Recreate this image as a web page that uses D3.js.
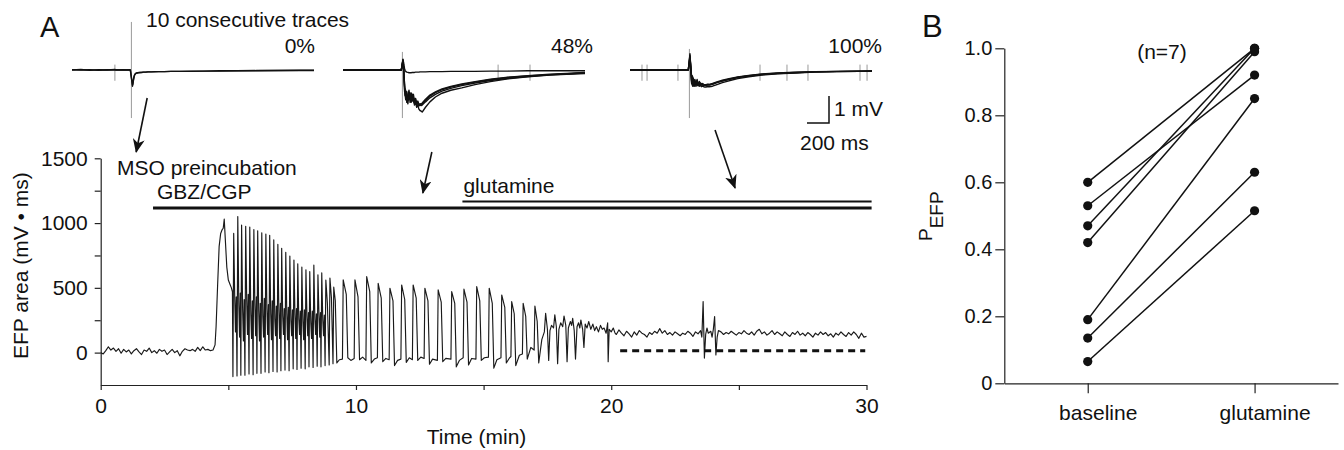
<!DOCTYPE html>
<meta charset="utf-8">
<style>
  body { margin: 0; background: #fff; }
  svg { font-family: "Liberation Sans", Arial, sans-serif; }
  .axis path, .axis line { stroke: #222; stroke-width: 1.2; }
  .axis text { font-size: 21px; fill: #111; font-family: "Liberation Sans", Arial, sans-serif; }
  .axisB text { font-size: 20px; }
  .trace { fill: none; stroke: #1a1a1a; stroke-width: 1.15; stroke-linejoin: round; }
  .sweep { fill: none; stroke: #111; stroke-width: 1.4; stroke-linejoin: round; }
  .stim { stroke: #9a9a9a; stroke-width: 1; }
  .label { font-size: 21px; fill: #111; }
</style>
<body>
<script src="https://cdn.jsdelivr.net/npm/d3@7"></script>
<script>
// ---------- panel A: EFP area over time (min, mV*ms) ----------
var efpBaseline = [[0,0],[0.1,-10],[0.2,15],[0.3,45],[0.4,20],[0.5,35],[0.6,10],[0.7,30],[0.8,-5],[0.9,25],
  [1.0,5],[1.1,20],[1.2,-10],[1.3,15],[1.4,30],[1.5,5],[1.6,-15],[1.7,20],[1.8,10],[1.9,35],
  [2.0,0],[2.1,15],[2.2,-5],[2.3,25],[2.4,10],[2.5,20],[2.6,-15],[2.7,5],[2.8,25],[2.9,0],
  [3.0,15],[3.1,-25],[3.2,10],[3.3,30],[3.4,20],[3.5,15],[3.6,25],[3.7,10],[3.8,40],[3.9,15],
  [4.0,45],[4.1,20],[4.2,25],[4.3,15],[4.4,20]];

var efpOnset = [[4.48,60],[4.52,200],[4.58,520],[4.64,820],[4.70,920],[4.76,950],[4.80,960],[4.84,1030],
  [4.88,880],[4.94,660],[5.00,560],[5.06,530],[5.12,500],[5.16,470]];

var efpDense = [
  [5.18,-185],[5.21,920],[5.25,430],[5.28,160],[5.31,430],
  [5.34,-180],[5.37,1050],[5.41,380],[5.44,120],[5.47,460],
  [5.49,-175],[5.52,985],[5.56,330],[5.59,90],[5.62,410],
  [5.65,-175],[5.68,975],[5.72,400],[5.75,140],[5.78,450],
  [5.81,-165],[5.84,970],[5.88,300],[5.91,110],[5.94,400],
  [5.97,-170],[6.00,950],[6.04,360],[6.07,130],[6.10,430],
  [6.12,-160],[6.15,940],[6.19,320],[6.22,90],[6.25,380],
  [6.28,-160],[6.31,925],[6.35,280],[6.38,120],[6.41,420],
  [6.44,-150],[6.47,915],[6.51,340],[6.54,140],[6.57,370],
  [6.59,-155],[6.62,905],[6.66,300],[6.69,100],[6.72,400],
  [6.75,-145],[6.78,870],[6.82,260],[6.85,130],[6.88,360],
  [6.91,-150],[6.94,835],[6.98,320],[7.01,110],[7.04,380],
  [7.06,-140],[7.09,805],[7.13,280],[7.16,140],[7.19,340],
  [7.22,-135],[7.25,775],[7.29,300],[7.32,100],[7.35,350],
  [7.38,-140],[7.41,745],[7.45,250],[7.48,130],[7.51,330],
  [7.54,-125],[7.57,715],[7.61,290],[7.64,110],[7.67,340],
  [7.69,-130],[7.72,685],[7.76,260],[7.79,140],[7.82,320],
  [7.85,-120],[7.88,660],[7.92,240],[7.95,100],[7.98,330],
  [8.01,-125],[8.04,640],[8.08,280],[8.11,130],[8.14,310],
  [8.16,-110],[8.19,625],[8.23,230],[8.26,110],[8.29,320],
  [8.32,-115],[8.35,675],[8.39,260],[8.42,140],[8.45,300],
  [8.48,-105],[8.51,600],[8.55,300],[8.58,120],[8.61,310],
  [8.63,-110],[8.66,615],[8.70,250],[8.73,130],[8.76,290],
  [8.79,-100],[8.82,560],[8.88,380],
  [8.95,-95],[8.98,575],[9.04,420],
  [9.10,-85],[9.13,505],[9.19,400],[9.25,-80]];

var efpSlow = [
  [9.35,-55],[9.47,-50],[9.50,561],[9.62,450],[9.68,-40],[9.80,-60],
  [9.93,-45],[9.96,561],[10.08,430],[10.14,-55],[10.26,-35],
  [10.39,-60],[10.42,587],[10.54,470],[10.60,-80],[10.72,-50],
  [10.84,-40],[10.87,535],[10.99,420],[11.05,-70],[11.17,-45],
  [11.30,-55],[11.33,497],[11.45,400],[11.51,-100],[11.63,-60],
  [11.76,-50],[11.79,522],[11.91,410],[11.97,-75],[12.09,-40],
  [12.21,-55],[12.24,522],[12.36,420],[12.42,-60],[12.54,-35],
  [12.67,-45],[12.70,497],[12.82,400],[12.88,-90],[13.00,-50],
  [13.19,-60],[13.22,484],[13.34,390],[13.40,-70],[13.52,-45],
  [13.72,-50],[13.75,471],[13.87,380],[13.93,-110],[14.05,-60],
  [14.20,-40],[14.23,490],[14.35,390],[14.41,-95],[14.53,-45],
  [14.70,-50],[14.73,510],[14.85,400],[14.91,-60],[15.03,-40],
  [15.19,-35],[15.22,497],[15.34,380],[15.40,-120],[15.52,-55],
  [15.68,-40],[15.71,445],[15.83,350],[15.89,-80],[16.00,-45],
  [16.07,-30],[16.10,394],[16.20,300],[16.26,-100],[16.40,-20],
  [16.52,-10],[16.55,381],[16.65,280],[16.71,-50],[16.85,40],
  [16.98,20],[17.01,360],[17.10,240],[17.16,-80],[17.28,100]];

var efpLate = [
  [17.38,160],[17.43,304],[17.50,180],[17.55,-60],[17.60,170],[17.66,210],
  [17.74,190],[17.79,291],[17.85,200],[17.90,-85],[17.95,180],[18.02,230],
  [18.10,200],[18.15,283],[18.22,210],[18.27,-70],[18.32,190],[18.40,240],
  [18.45,210],[18.49,265],[18.55,170],[18.60,-50],[18.66,200],[18.72,230],
  [18.77,190],[18.81,252],[18.88,180],[18.93,40],[18.98,220],[19.05,190],
  [19.12,240],[19.20,180],[19.28,220],[19.35,170],[19.42,200],[19.50,160],[19.58,210],
  [19.65,180],[19.72,190],[19.80,150],[19.86,230],[19.88,-70],[19.92,180],[20.00,160],[20.08,190],[20.15,150]];

var efpTail = [
  [20.2,140],[20.3,175],[20.4,150],[20.5,130],[20.6,165],[20.7,145],[20.8,120],[20.9,160],[21.0,135],
  [21.1,170],[21.2,150],[21.3,140],[21.4,120],[21.5,155],[21.6,140],[21.7,165],[21.8,150],[21.9,185],
  [22.0,150],[22.1,170],[22.2,140],[22.3,155],[22.4,135],[22.5,160],[22.6,145],[22.7,130],[22.8,150],
  [22.9,140],[23.0,165],[23.1,150],[23.2,125],[23.3,160],[23.4,145],[23.5,170],[23.55,120],[23.6,394],
  [23.65,-42],[23.7,140],[23.75,190],[23.8,150],[23.9,165],[23.95,120],[24.0,180],[24.05,278],[24.1,-18],
  [24.15,120],[24.2,170],[24.3,160],[24.4,140],[24.5,155],[24.6,145],[24.7,165],[24.8,150],[24.9,135],
  [25.0,155],[25.1,145],[25.2,170],[25.3,150],[25.4,140],[25.5,160],[25.6,135],[25.7,165],[25.8,180],
  [25.9,145],[26.0,160],[26.1,135],[26.2,150],[26.3,170],[26.4,140],[26.5,160],[26.6,145],[26.7,130],
  [26.8,160],[26.9,140],[27.0,125],[27.1,155],[27.2,140],[27.3,165],[27.4,135],[27.5,150],[27.6,130],
  [27.7,155],[27.8,140],[27.9,120],[28.0,150],[28.1,135],[28.2,160],[28.3,140],[28.4,155],[28.5,130],
  [28.6,145],[28.7,120],[28.8,150],[28.9,135],[29.0,160],[29.1,140],[29.2,125],[29.3,155],[29.4,135],
  [29.5,160],[29.6,140],[29.7,110],[29.8,150],[29.9,120],[30.0,125]];

var drugNames = ["GBZ/CGP", "glutamine"];
var drugStart = [2.05, 14.17];
var drugEnd = [30.2, 30.2];
var refLineTimes = [20.35, 29.95];
var refLevel = 15;
var yTicksA = [0, 250, 500, 750, 1000, 1250, 1500];
var xTicksA = [0, 5, 10, 15, 20, 25, 30];
var arrowTimes = [1.39, 12.62, 24.85];

// ---------- inset sweeps (ms, mV) ----------
var sweepTime = [0, 80, 160, 240, 320, 390, 400, 460, 530,
  545, 550, 555, 560, 565, 570, 575, 580, 590, 600, 610, 620, 630, 640, 650, 660, 670, 680, 690, 700, 710, 720,
  750, 790, 840, 900, 980, 1080, 1200, 1340, 1500, 1680, 1880, 2080, 2200];
var sweeps0 = [
  [0, 0.02, -0.01, 0.01, 0, 0.02, 0, 0.01, 0,
   -0.45, -0.6, -0.5, -0.35, -0.25, -0.18, -0.15, -0.13, -0.11, -0.1, -0.1, -0.09, -0.09, -0.09, -0.08, -0.08, -0.08, -0.08, -0.07, -0.07, -0.07, -0.07,
   -0.07, -0.06, -0.06, -0.05, -0.05, -0.04, -0.04, -0.03, -0.03, -0.02, -0.02, -0.01, -0.01],
  [0.01, 0, 0.01, -0.01, 0.01, 0, 0.01, 0, 0.01,
   -0.4, -0.55, -0.45, -0.32, -0.22, -0.17, -0.14, -0.12, -0.11, -0.1, -0.09, -0.09, -0.09, -0.08, -0.08, -0.08, -0.08, -0.07, -0.07, -0.07, -0.07, -0.07,
   -0.06, -0.06, -0.06, -0.05, -0.05, -0.05, -0.04, -0.04, -0.03, -0.03, -0.02, -0.02, -0.02]];
var sweeps48 = [
  [0, 0.01, -0.01, 0.01, 0, 0.01, 0, 0, 0,
   0.35, 0.3, 0.15, 0.05, -0.02, -0.05, -0.07, -0.08, -0.09, -0.1, -0.1, -0.1, -0.09, -0.09, -0.09, -0.08, -0.08, -0.08, -0.08, -0.07, -0.07, -0.07,
   -0.07, -0.06, -0.06, -0.06, -0.05, -0.05, -0.05, -0.04, -0.04, -0.03, -0.03, -0.03, -0.03],
  [0, 0.01, -0.01, 0, 0.01, 0, 0, 0, 0,
   0.4, 0.1, -0.3, -0.7, -0.95, -0.75, -1.1, -1.05, -1.25, -0.85, -1.2, -0.95, -1.15, -1.0, -1.3, -1.2, -1.38, -1.3, -1.45, -1.5, -1.52, -1.56,
   -1.38, -1.18, -1.0, -0.86, -0.75, -0.66, -0.54, -0.43, -0.33, -0.25, -0.19, -0.15, -0.13],
  [0.01, 0, 0, 0.01, 0, 0.01, 0, 0.01, 0,
   0.35, 0.2, -0.2, -0.6, -0.85, -1.0, -0.8, -1.1, -0.95, -0.75, -1.05, -0.85, -1.0, -0.9, -1.15, -1.05, -1.25, -1.2, -1.33, -1.3, -1.32, -1.3,
   -1.18, -1.03, -0.9, -0.78, -0.68, -0.58, -0.48, -0.39, -0.31, -0.24, -0.18, -0.14, -0.11],
  [0, -0.01, 0.01, 0, 0, 0, 0.01, 0, 0,
   0.3, 0.05, -0.35, -0.8, -0.7, -0.95, -1.05, -0.8, -1.1, -0.9, -0.95, -1.15, -0.9, -1.1, -1.2, -1.1, -1.22, -1.15, -1.28, -1.25, -1.27, -1.25,
   -1.12, -0.97, -0.84, -0.73, -0.63, -0.54, -0.45, -0.36, -0.28, -0.22, -0.17, -0.13, -0.1],
  [0.01, 0, 0, -0.01, 0.01, 0, 0, 0, 0.01,
   0.38, 0.15, -0.25, -0.55, -0.9, -1.1, -0.9, -1.2, -1.0, -1.1, -0.85, -1.2, -1.05, -1.15, -1.25, -1.15, -1.3, -1.22, -1.3, -1.28, -1.26, -1.22,
   -1.08, -0.93, -0.81, -0.7, -0.61, -0.52, -0.43, -0.34, -0.27, -0.21, -0.16, -0.12, -0.09]];
var sweeps100 = [
  [0, 0.01, -0.01, 0, 0.01, 0, 0, 0.01, 0,
   0.55, 0.2, -0.1, -0.45, -0.2, -0.5, -0.3, -0.55, -0.35, -0.6, -0.4, -0.55, -0.45, -0.58, -0.5, -0.55, -0.58, -0.56, -0.57, -0.56, -0.55, -0.55,
   -0.52, -0.46, -0.4, -0.34, -0.27, -0.21, -0.16, -0.12, -0.09, -0.07, -0.05, -0.04, -0.04],
  [0.01, 0, 0, 0.01, 0, 0.01, 0, 0, 0.01,
   0.5, 0.3, 0.1, -0.35, -0.5, -0.3, -0.55, -0.45, -0.6, -0.4, -0.58, -0.5, -0.6, -0.55, -0.62, -0.6, -0.62, -0.63, -0.63, -0.62, -0.62, -0.62,
   -0.6, -0.54, -0.47, -0.4, -0.32, -0.25, -0.19, -0.14, -0.11, -0.08, -0.06, -0.05, -0.05],
  [0, 0, 0.01, -0.01, 0, 0, 0.01, 0, 0,
   0.6, 0.1, -0.2, -0.5, -0.35, -0.6, -0.45, -0.35, -0.55, -0.45, -0.5, -0.58, -0.42, -0.52, -0.55, -0.5, -0.53, -0.54, -0.54, -0.53, -0.53, -0.53,
   -0.5, -0.44, -0.38, -0.32, -0.26, -0.2, -0.15, -0.11, -0.08, -0.06, -0.05, -0.04, -0.03],
  [0.01, 0.01, 0, 0, 0.01, 0, 0, 0.01, 0,
   0.45, 0.25, 0, -0.4, -0.55, -0.25, -0.4, -0.6, -0.45, -0.55, -0.35, -0.52, -0.58, -0.48, -0.55, -0.56, -0.57, -0.57, -0.56, -0.56, -0.56, -0.56,
   -0.53, -0.47, -0.41, -0.35, -0.28, -0.22, -0.17, -0.13, -0.1, -0.07, -0.06, -0.05, -0.04]];
var insetLabels = ["0%", "48%", "100%"];
var stimTime = 540;
var stimTop = [1.78, 0.67, 0.78];
var artifactTimes = [[390], [1410, 1700], [109, 155, 436, 1182, 1427, 1618, 2091, 2155]];

// ---------- panel B: P_EFP per slice ----------
var conditions = ["baseline", "glutamine"];
var pBaseline = [0.60, 0.53, 0.47, 0.42, 0.19, 0.135, 0.065];
var pGlutamine = [1.0, 0.92, 1.0, 0.99, 0.85, 0.63, 0.515];
var yTicksB = [0, 0.2, 0.4, 0.6, 0.8, 1.0];

var width = 1344, height = 450;

var svg = d3.select("body").append("svg")
    .attr("width", width)
    .attr("height", height);

svg.append("defs").append("marker")
    .attr("id", "head")
    .attr("viewBox", "0 0 14 12")
    .attr("refX", 13).attr("refY", 6)
    .attr("markerWidth", 14).attr("markerHeight", 12)
    .attr("markerUnits", "userSpaceOnUse")
    .attr("orient", "auto")
  .append("path")
    .attr("d", "M0,0L14,6L0,12L4,6z")
    .attr("fill", "#111");

// ===== panel A =====
var x = d3.scaleLinear().domain([0, 30]).range([100.7, 866.5]);
var y = d3.scaleLinear().domain([-250, 1500]).range([385, 158.3]);

svg.append("g")
    .attr("class", "axis")
    .attr("transform", "translate(" + x(0) + ",0)")
    .call(d3.axisLeft(y).tickValues(yTicksA).tickSize(6).tickSizeOuter(0).tickPadding(7)
      .tickFormat(function(d) { return d % 500 === 0 ? d : ""; }));

svg.append("g")
    .attr("class", "axis")
    .attr("transform", "translate(0," + y(-250) + ")")
    .call(d3.axisBottom(x).tickValues(xTicksA).tickSize(5).tickSizeOuter(0).tickPadding(8)
      .tickFormat(function(d) { return d % 10 === 0 ? d : ""; }));

svg.append("text")
    .attr("class", "label")
    .attr("transform", "translate(28," + ((y(-250) + y(1500)) / 2 - 6) + ") rotate(-90)")
    .attr("text-anchor", "middle")
    .text("EFP area (mV \u2022 ms)");

svg.append("text")
    .attr("class", "label")
    .attr("x", (x(0) + x(30)) / 2 - 7)
    .attr("y", 444)
    .attr("text-anchor", "middle")
    .text("Time (min)");

var efp = efpBaseline.concat(efpOnset, efpDense, efpSlow, efpLate, efpTail);
var line = d3.line().x(function(d) { return x(d[0]); }).y(function(d) { return y(d[1]); });

svg.append("path")
    .datum(efp)
    .attr("class", "trace")
    .attr("d", line);

// reference dashed line
svg.append("line")
    .attr("x1", x(refLineTimes[0])).attr("x2", x(refLineTimes[1]))
    .attr("y1", y(refLevel)).attr("y2", y(refLevel))
    .attr("stroke", "#111").attr("stroke-width", 3)
    .attr("stroke-dasharray", "7,5");

// drug application bars
var barY = [208, 201.5], barW = [3.2, 2.2], labelY = [199, 193], labelDx = [4, 1];
drugNames.forEach(function(name, i) {
  svg.append("line")
      .attr("x1", x(drugStart[i])).attr("x2", x(drugEnd[i]))
      .attr("y1", barY[i]).attr("y2", barY[i])
      .attr("stroke", "#111").attr("stroke-width", barW[i]);
  svg.append("text")
      .attr("class", "label")
      .attr("x", x(drugStart[i]) + labelDx[i])
      .attr("y", labelY[i])
      .text(name);
});

svg.append("text")
    .attr("class", "label")
    .attr("x", 117).attr("y", 175)
    .text("MSO preincubation");

// ===== insets =====
var insetX0 = [72, 343, 630];
var ySweep = d3.scaleLinear().domain([-2, 2]).range([124, 16]);
var insetSweeps = [sweeps0, sweeps48, sweeps100];
var lastXs;

insetSweeps.forEach(function(set, k) {
  var xs = d3.scaleLinear().domain([0, 2200]).range([insetX0[k], insetX0[k] + 242]);
  lastXs = xs;
  var g = svg.append("g");
  g.append("line")
      .attr("class", "stim")
      .attr("x1", xs(stimTime)).attr("x2", xs(stimTime))
      .attr("y1", ySweep(stimTop[k])).attr("y2", ySweep(-1.78));
  g.selectAll(".art")
      .data(artifactTimes[k])
    .enter().append("line")
      .attr("class", "stim")
      .attr("x1", function(d) { return xs(d); }).attr("x2", function(d) { return xs(d); })
      .attr("y1", ySweep(0.2)).attr("y2", ySweep(-0.4));
  var sl = d3.line()
      .x(function(d, i) { return xs(sweepTime[i]); })
      .y(function(d) { return ySweep(d); });
  g.selectAll(".sweep")
      .data(set)
    .enter().append("path")
      .attr("class", "sweep")
      .attr("d", sl);
  g.append("text")
      .attr("class", "label")
      .attr("x", xs(2200) + [1, 8, 10][k])
      .attr("y", 53)
      .attr("text-anchor", "end")
      .text(insetLabels[k]);
});

svg.append("text")
    .attr("class", "label")
    .attr("x", 146).attr("y", 27)
    .text("10 consecutive traces");

// scale bar: 1 mV, 200 ms
var sbx = 829, sby = 123;
svg.append("path")
    .attr("d", "M" + (sbx - (lastXs(200) - lastXs(0))) + "," + sby + "H" + sbx + "V" + (sby - (ySweep(0) - ySweep(1))))
    .attr("fill", "none").attr("stroke", "#111").attr("stroke-width", 1.5);
svg.append("text").attr("class", "label").attr("x", 834).attr("y", 116).text("1 mV");
svg.append("text").attr("class", "label").attr("x", 800).attr("y", 150).text("200 ms");

// arrows from traces to time points
var arrowTail = [[11, 98], [9, 152], [-20, 130]];
var arrowTipY = [152, 193, 188];
arrowTimes.forEach(function(t, i) {
  svg.append("line")
      .attr("x1", x(t) + arrowTail[i][0]).attr("y1", arrowTail[i][1])
      .attr("x2", x(t)).attr("y2", arrowTipY[i])
      .attr("stroke", "#111").attr("stroke-width", 1.6)
      .attr("marker-end", "url(#head)");
});

svg.append("text").attr("x", 40).attr("y", 37)
    .style("font-size", "29px").attr("fill", "#111").text("A");

// ===== panel B =====
var xB = d3.scalePoint().domain(conditions).range([1004.3, 1338]).padding(0.5);
var yB = d3.scaleLinear().domain([0, 1]).range([383.3, 48.3]);

svg.append("g")
    .attr("class", "axis axisB")
    .attr("transform", "translate(1004.3,0)")
    .call(d3.axisLeft(yB).tickValues(yTicksB).tickSize(9).tickSizeOuter(0).tickPadding(3)
      .tickFormat(function(d) { return d === 0 ? "0" : d3.format(".1f")(d); }));

var xAxisB = svg.append("g")
    .attr("class", "axis")
    .attr("transform", "translate(0," + yB(0) + ")")
    .call(d3.axisBottom(xB).tickSize(10).tickSizeOuter(0).tickPadding(12));
xAxisB.selectAll(".tick text").attr("dx", 10);

var yLab = svg.append("text")
    .attr("class", "label")
    .attr("transform", "translate(932,241) rotate(-90)")
    .style("font-size", "19px");
yLab.append("tspan").text("P");
yLab.append("tspan").attr("dy", 11).text("EFP");

svg.append("text")
    .attr("class", "label")
    .attr("x", 1162).attr("y", 59)
    .attr("text-anchor", "middle")
    .text("(n=7)");

var pairs = pBaseline.map(function(b, i) { return [b, pGlutamine[i]]; });

svg.append("g").selectAll("line")
    .data(pairs)
  .enter().append("line")
    .attr("x1", xB("baseline")).attr("x2", xB("glutamine"))
    .attr("y1", function(d) { return yB(d[0]); })
    .attr("y2", function(d) { return yB(d[1]); })
    .attr("stroke", "#111").attr("stroke-width", 1.5);

svg.append("g").selectAll("circle")
    .data(pBaseline.map(function(v) { return ["baseline", v]; })
      .concat(pGlutamine.map(function(v) { return ["glutamine", v]; })))
  .enter().append("circle")
    .attr("cx", function(d) { return xB(d[0]); })
    .attr("cy", function(d) { return yB(d[1]); })
    .attr("r", 4.6)
    .attr("fill", "#111");

svg.append("text").attr("x", 922).attr("y", 37)
    .style("font-size", "31px").attr("fill", "#111").text("B");
</script>
</body>
